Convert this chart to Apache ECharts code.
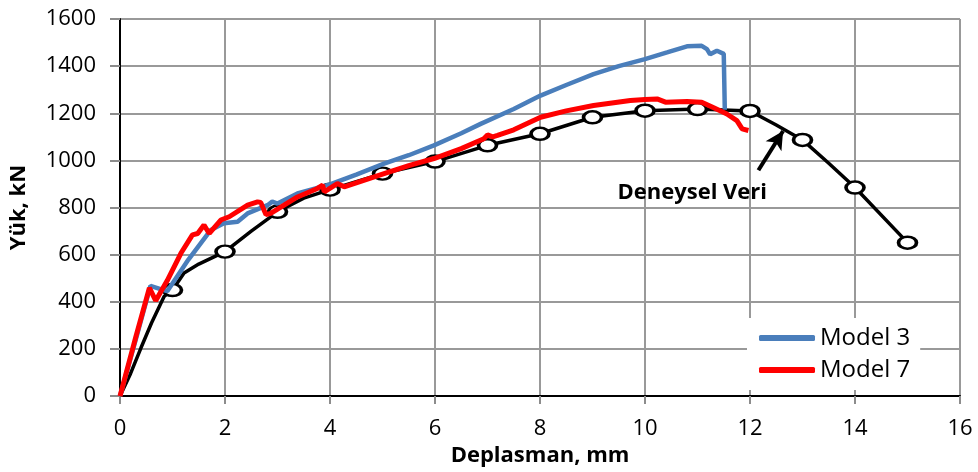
<!DOCTYPE html>
<html>
<head>
<meta charset="utf-8">
<script src="https://cdn.jsdelivr.net/npm/echarts@6/dist/echarts.min.js"></script>
<style>
  html, body { margin: 0; padding: 0; background: #fff; }
  #chart { width: 978px; height: 472px; }
</style>
</head>
<body>
<div id="chart"></div>
<script>
// Deplasman (mm), Yük (kN)
const model3 = [
  [0, 0], [0.3, 240], [0.58, 468], [0.8, 452], [0.9, 445], [1.3, 578], [1.73, 705],
  [1.98, 733], [2.24, 740], [2.43, 775], [2.81, 810], [2.9, 825], [3.0, 817], [3.38, 860],
  [4.0, 898], [4.5, 940], [5.03, 986], [5.5, 1022], [5.98, 1064], [6.5, 1115], [6.87, 1155],
  [7.5, 1218], [8.01, 1275], [8.5, 1320], [9.02, 1366], [9.5, 1400], [10.0, 1430],
  [10.42, 1458], [10.8, 1484], [11.08, 1486], [11.18, 1472], [11.24, 1450], [11.37, 1465],
  [11.5, 1452], [11.52, 1215]
];
const model7 = [
  [0, 0], [0.3, 250], [0.56, 459], [0.68, 405], [0.9, 490], [1.16, 606], [1.38, 684],
  [1.48, 690], [1.6, 726], [1.7, 690], [1.92, 747], [2.08, 761], [2.43, 810], [2.62, 824],
  [2.68, 822], [2.78, 770], [2.87, 775], [3.38, 845], [3.76, 881], [3.86, 895], [3.89, 867],
  [4.14, 902], [4.27, 888], [5.03, 944], [5.5, 978], [5.98, 1008], [6.5, 1050], [6.93, 1092],
  [7.0, 1108], [7.1, 1100], [7.19, 1106], [7.5, 1130], [8.01, 1183], [8.5, 1210], [9.02, 1233],
  [9.72, 1254], [10.0, 1258], [10.23, 1261], [10.39, 1247], [10.8, 1250], [11.08, 1247],
  [11.31, 1223], [11.56, 1197], [11.75, 1169], [11.85, 1134], [11.97, 1127]
];
// deney eğrisi; tam sayı deplasmanlarda işaretçi var
const deney = [
  [0, 0], [0.2, 95], [0.4, 205], [0.6, 310], [0.84, 423], [1, 450], [1.22, 522], [1.5, 560],
  [1.67, 578], [2, 613], [2.5, 700], [3, 782], [3.5, 840], [4, 876], [5, 944], [6, 995],
  [7, 1064], [8, 1113], [9, 1183], [10, 1211], [11, 1218], [12, 1210], [12.5, 1150],
  [13, 1087], [13.5, 988], [14, 885], [15, 651]
];
const arrowFrom = [12.16, 958];
const arrowTo = [12.63, 1125];
const labelAt = [10.9, 861];

const font = 'Open Sans';

const expData = deney.map(p => {
  if (p[0] >= 1 && Number.isInteger(p[0])) return { value: p };
  return { value: p, symbol: 'none' };
});

const hiddenAxis = {
  show: true,
  axisLine: { show: true, lineStyle: { color: '#000', width: 2 } },
  axisTick: { show: false },
  axisLabel: { show: false },
  splitLine: { show: false }
};

const option = {
  animation: false,
  backgroundColor: '#fff',
  textStyle: { fontFamily: font },
  grid: { left: 119, right: 18, top: 19, bottom: 75 },
  legend: {
    data: ['Model 3', 'Model 7'],
    orient: 'vertical',
    left: 747,
    top: 318,
    backgroundColor: '#fff',
    padding: [8, 10, 8, 12],
    itemGap: 8,
    itemWidth: 56,
    itemHeight: 6,
    icon: 'roundRect',
    textStyle: { fontFamily: font, fontSize: 24, color: '#000' }
  },
  xAxis: [{
    type: 'value',
    min: 0, max: 16, interval: 2,
    name: 'Deplasman, mm',
    nameLocation: 'middle',
    nameGap: 48,
    nameTextStyle: { fontFamily: font, fontSize: 22, fontWeight: 'bold', color: '#000' },
    axisLine: { lineStyle: { color: '#8c8c8c', width: 2 } },
    axisTick: { show: true, length: 8, lineStyle: { color: '#8c8c8c', width: 2 } },
    axisLabel: { fontFamily: font, fontSize: 22, color: '#000', margin: 22 },
    splitLine: { lineStyle: { color: '#999', width: 2 } }
  }, Object.assign({ type: 'value', min: 0, max: 16, position: 'top' }, hiddenAxis)],
  yAxis: [{
    type: 'value',
    min: 0, max: 1600, interval: 200,
    name: 'Yük, kN',
    nameLocation: 'middle',
    nameGap: 90,
    nameTextStyle: { fontFamily: font, fontSize: 22, fontWeight: 'bold', color: '#000' },
    axisLine: { show: true, lineStyle: { color: '#8c8c8c', width: 2 } },
    axisTick: { show: true, length: 10, lineStyle: { color: '#8c8c8c', width: 2 } },
    axisLabel: { fontFamily: font, fontSize: 22, color: '#000', margin: 24, formatter: v => String(v) },
    splitLine: { lineStyle: { color: '#999', width: 2 } }
  }, Object.assign({ type: 'value', min: 0, max: 1600, position: 'right' }, hiddenAxis)],
  series: [
    {
      name: 'Deneysel Veri',
      type: 'line',
      data: expData,
      symbol: 'circle',
      symbolSize: [18, 12],
      showAllSymbol: true,
      lineStyle: { color: '#000', width: 3.5 },
      itemStyle: { color: '#fff', borderColor: '#000', borderWidth: 3 },
      z: 2,
      markLine: {
        silent: true,
        symbol: ['none', 'arrow'],
        symbolSize: [14, 18],
        lineStyle: { color: '#000', width: 4, type: 'solid' },
        label: { show: false },
        data: [[{ coord: arrowFrom }, { coord: arrowTo }]]
      },
      markPoint: {
        silent: true,
        symbol: 'rect',
        symbolSize: 1,
        itemStyle: { color: 'rgba(0,0,0,0)' },
        label: {
          show: true,
          position: 'inside',
          formatter: 'Deneysel Veri',
          fontFamily: font,
          fontSize: 22,
          fontWeight: 'bold',
          color: '#000'
        },
        data: [{ coord: labelAt }]
      }
    },
    {
      name: 'Model 3',
      type: 'line',
      data: model3,
      symbol: 'none',
      color: '#4a7ebb',
      lineStyle: { color: '#4a7ebb', width: 4.5 },
      z: 3
    },
    {
      name: 'Model 7',
      type: 'line',
      data: model7,
      symbol: 'none',
      color: '#ff0000',
      lineStyle: { color: '#ff0000', width: 5 },
      z: 4
    }
  ]
};

const chart = echarts.init(document.getElementById('chart'));
chart.setOption(option);
</script>
</body>
</html>
